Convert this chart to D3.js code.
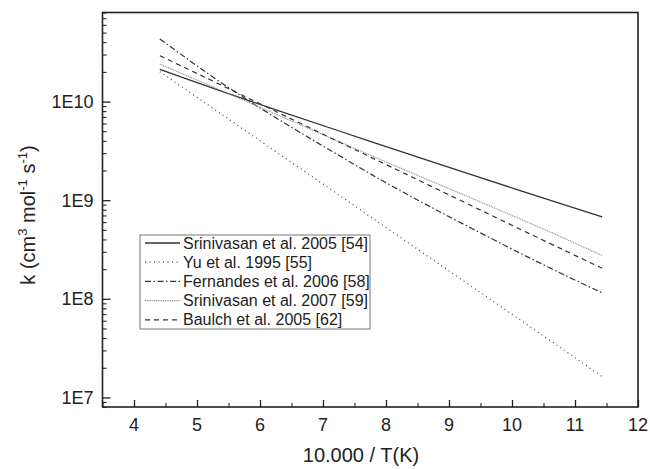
<!DOCTYPE html>
<html>
<head>
<meta charset="utf-8">
<script src="https://cdn.jsdelivr.net/npm/d3@7"></script>
<style>
  body { margin: 0; background: #fff; }
  text { font-family: "Liberation Sans", Arial, sans-serif; fill: #222; }
</style>
</head>
<body>
<div id="chart"></div>
<script>
// values at a few 10000/T positions
const seriesNames = [
  "Srinivasan et al. 2005 [54]",
  "Yu et al. 1995 [55]",
  "Fernandes et al. 2006 [58]",
  "Srinivasan et al. 2007 [59]",
  "Baulch et al. 2005 [62]"
];
const xPoints = [4.41, 5.73, 7.27, 8.41, 10.13, 11.43];
const kSrinivasan2005 = [2.12e10, 1.07e10, 5.00e9, 2.87e9, 1.25e9, 6.76e8];
const kYu1995 = [2.01e10, 5.27e9, 1.11e9, 3.49e8, 6.11e7, 1.63e7];
const kFernandes2006 = [4.32e10, 1.11e10, 2.80e9, 1.08e9, 2.90e8, 1.15e8];
const kSrinivasan2007 = [2.40e10, 1.04e10, 3.89e9, 1.89e9, 6.45e8, 2.75e8];
const kBaulch2005 = [2.92e10, 1.15e10, 3.85e9, 1.72e9, 5.08e8, 2.04e8];
const xTicks = [4, 5, 6, 7, 8, 9, 10, 11, 12];
const yTicks = [1e7, 1e8, 1e9, 1e10];
const yTickLabels = ["1E7", "1E8", "1E9", "1E10"];

const width = 650;
const height = 469;
const margin = { top: 12.5, right: 12, bottom: 62, left: 102.5 };

const styles = [
  { color: "#333", dash: null, w: 1.3 },
  { color: "#444", dash: "1,3.5", w: 1.2 },
  { color: "#333", dash: "6,2.5,1.5,2.5", w: 1.2 },
  { color: "#888", dash: "1,0.8", w: 1.1 },
  { color: "#333", dash: "5,4", w: 1.2 }
];

const svg = d3.select("#chart").append("svg")
  .attr("width", width)
  .attr("height", height);

const x = d3.scaleLinear()
  .domain([3.5, 12])
  .range([margin.left, width - margin.right]);

const y = d3.scaleLog()
  .domain([8e6, 8e10])
  .range([height - margin.bottom, margin.top]);

const kSeries = [kSrinivasan2005, kYu1995, kFernandes2006, kSrinivasan2007, kBaulch2005];
const series = seriesNames.map((name, i) => ({
  name,
  points: xPoints.map((xv, j) => [xv, kSeries[i][j]]),
  style: styles[i]
}));

const line = d3.line()
  .curve(d3.curveNatural)
  .x(d => x(d[0]))
  .y(d => y(d[1]));

// lines
svg.selectAll(".series")
  .data(series)
  .enter().append("path")
  .attr("class", "series")
  .attr("d", d => line(d.points))
  .attr("fill", "none")
  .attr("stroke", d => d.style.color)
  .attr("stroke-width", d => d.style.w)
  .attr("stroke-dasharray", d => d.style.dash);

// axes, ticks pointing inward
const bottom = height - margin.bottom;
const minorX = d3.range(3.5, 12.01, 0.5).filter(v => v % 1 !== 0);

svg.append("g")
  .attr("transform", `translate(0,${bottom})`)
  .call(d3.axisTop(x).tickValues(xTicks).tickSize(7).tickFormat(""))
  .call(g => g.select(".domain").remove())
  .selectAll("line").attr("stroke", "#222").attr("stroke-width", 1.3);

svg.append("g")
  .attr("transform", `translate(0,${bottom})`)
  .call(d3.axisTop(x).tickValues(minorX).tickSize(4).tickFormat(""))
  .call(g => g.select(".domain").remove())
  .selectAll("line").attr("stroke", "#222").attr("stroke-width", 1.1);

svg.append("g")
  .selectAll("text")
  .data(xTicks)
  .enter().append("text")
  .attr("x", d => x(d))
  .attr("y", bottom + 24)
  .attr("text-anchor", "middle")
  .style("font-size", "18px")
  .text(d => d);

const minorY = [];
[1e6, 1e7, 1e8, 1e9, 1e10].forEach(dec => {
  for (let m = 2; m <= 9; m++) {
    const v = m * dec;
    if (v >= 8e6 && v <= 8e10) minorY.push(v);
  }
});

svg.append("g")
  .attr("transform", `translate(${margin.left},0)`)
  .call(d3.axisRight(y).tickValues(yTicks).tickSize(8).tickFormat(""))
  .call(g => g.select(".domain").remove())
  .selectAll("line").attr("stroke", "#222").attr("stroke-width", 1.3);

svg.append("g")
  .attr("transform", `translate(${margin.left},0)`)
  .call(d3.axisRight(y).tickValues(minorY).tickSize(4).tickFormat(""))
  .call(g => g.select(".domain").remove())
  .selectAll("line").attr("stroke", "#222").attr("stroke-width", 1.1);

svg.append("g")
  .selectAll("text")
  .data(yTicks)
  .enter().append("text")
  .attr("x", margin.left - 9)
  .attr("y", d => y(d) + 6.5)
  .attr("text-anchor", "end")
  .style("font-size", "18px")
  .text((d, i) => yTickLabels[i]);

// frame
svg.append("rect")
  .attr("x", margin.left)
  .attr("y", margin.top)
  .attr("width", width - margin.right - margin.left)
  .attr("height", bottom - margin.top)
  .attr("fill", "none")
  .attr("stroke", "#222")
  .attr("stroke-width", 1.6);

// axis titles
svg.append("text")
  .attr("x", 361)
  .attr("y", 462)
  .attr("text-anchor", "middle")
  .style("font-size", "20px")
  .text("10.000 / T(K)");

const yTitle = svg.append("text")
  .attr("transform", "translate(35,215) rotate(-90)")
  .attr("text-anchor", "middle")
  .style("font-size", "20px");
yTitle.append("tspan").text("k (cm");
yTitle.append("tspan").attr("dy", -8).style("font-size", "13px").text("3");
yTitle.append("tspan").attr("dy", 8).text(" mol");
yTitle.append("tspan").attr("dy", -8).style("font-size", "13px").text("-1");
yTitle.append("tspan").attr("dy", 8).text(" s");
yTitle.append("tspan").attr("dy", -8).style("font-size", "13px").text("-1");
yTitle.append("tspan").attr("dy", 8).text(")");

// legend
const legend = svg.append("g")
  .attr("transform", "translate(140,235)");

legend.append("rect")
  .attr("width", 230)
  .attr("height", 94)
  .attr("fill", "#fff")
  .attr("stroke", "#777")
  .attr("stroke-width", 1);

const rows = legend.selectAll(".row")
  .data(series)
  .enter().append("g")
  .attr("class", "row")
  .attr("transform", (d, i) => `translate(0,${8 + i * 19.2})`);

rows.append("line")
  .attr("x1", 5)
  .attr("x2", 40)
  .attr("stroke", d => d.style.color)
  .attr("stroke-width", d => d.style.w)
  .attr("stroke-dasharray", d => d.style.dash);

rows.append("text")
  .attr("x", 43)
  .attr("y", 5.5)
  .style("font-size", "16px")
  .text(d => d.name);
</script>
</body>
</html>
